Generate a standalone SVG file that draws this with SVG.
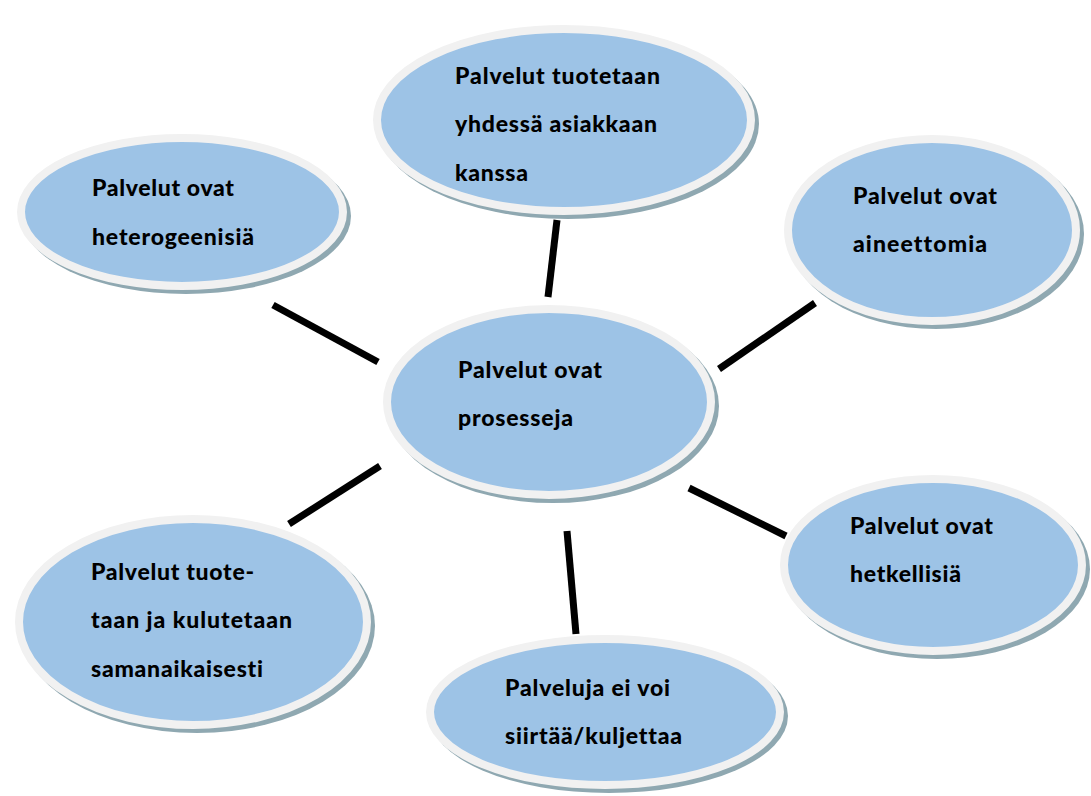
<svg xmlns="http://www.w3.org/2000/svg" width="1091" height="796" viewBox="0 0 1091 796">
<style>
.sh{fill:#8fa8b1}
.bd{fill:#9dc3e6;stroke:#f1f1f1;stroke-width:8}
.t{font-family:Lato,"Liberation Sans",sans-serif;font-weight:900;font-size:23px;fill:#000;font-variant-ligatures:none}
.c{stroke:#000;stroke-width:7;fill:none}
</style>
<rect width="1091" height="796" fill="#fff"/>
<g id="connectors">
<line class="c" x1="557" y1="220" x2="548" y2="297"/>
<line class="c" x1="273" y1="305" x2="378" y2="362"/>
<line class="c" x1="815" y1="303" x2="719" y2="369"/>
<line class="c" x1="380" y1="466" x2="289" y2="524"/>
<line class="c" x1="689" y1="488" x2="786" y2="536"/>
<line class="c" x1="567" y1="531" x2="576" y2="634"/>
</g>
<g id="node-top">
<ellipse class="sh" cx="568" cy="124" rx="191" ry="95"/>
<ellipse class="bd" cx="564" cy="120" rx="187" ry="91"/>
<text class="t" x="455" y="84" textLength="205" lengthAdjust="spacing">Palvelut tuotetaan</text>
<text class="t" x="455" y="132" textLength="202" lengthAdjust="spacing">yhdessä asiakkaan</text>
<text class="t" x="455" y="181" textLength="73" lengthAdjust="spacing">kanssa</text>
</g>
<g id="node-topleft">
<ellipse class="sh" cx="186" cy="216" rx="165" ry="78"/>
<ellipse class="bd" cx="182" cy="212" rx="161" ry="74"/>
<text class="t" x="92" y="196" textLength="142" lengthAdjust="spacing">Palvelut ovat</text>
<text class="t" x="92" y="245" textLength="162" lengthAdjust="spacing">heterogeenisiä</text>
</g>
<g id="node-topright">
<ellipse class="sh" cx="936" cy="234" rx="148" ry="95"/>
<ellipse class="bd" cx="932" cy="230" rx="144" ry="91"/>
<text class="t" x="853" y="204" textLength="144" lengthAdjust="spacing">Palvelut ovat</text>
<text class="t" x="853" y="252" textLength="134" lengthAdjust="spacing">aineettomia</text>
</g>
<g id="node-center">
<ellipse class="sh" cx="553" cy="406" rx="166" ry="97"/>
<ellipse class="bd" cx="549" cy="402" rx="162" ry="93"/>
<text class="t" x="458" y="378" textLength="144" lengthAdjust="spacing">Palvelut ovat</text>
<text class="t" x="458" y="426" textLength="115" lengthAdjust="spacing">prosesseja</text>
</g>
<g id="node-right">
<ellipse class="sh" cx="937" cy="569" rx="153" ry="90"/>
<ellipse class="bd" cx="933" cy="565" rx="149" ry="86"/>
<text class="t" x="850" y="534" textLength="143" lengthAdjust="spacing">Palvelut ovat</text>
<text class="t" x="850" y="582" textLength="111" lengthAdjust="spacing">hetkellisiä</text>
</g>
<g id="node-bottomleft">
<ellipse class="sh" cx="197" cy="626" rx="178" ry="107"/>
<ellipse class="bd" cx="193" cy="622" rx="174" ry="103"/>
<text class="t" x="91" y="580" textLength="163" lengthAdjust="spacing">Palvelut tuote-</text>
<text class="t" x="91" y="628" textLength="201" lengthAdjust="spacing">taan ja kulutetaan</text>
<text class="t" x="91" y="677" textLength="172" lengthAdjust="spacing">samanaikaisesti</text>
</g>
<g id="node-bottom">
<ellipse class="sh" cx="609" cy="716" rx="179" ry="77"/>
<ellipse class="bd" cx="605" cy="712" rx="175" ry="73"/>
<text class="t" x="505" y="696" textLength="165" lengthAdjust="spacing">Palveluja ei voi</text>
<text class="t" x="505" y="744" textLength="177" lengthAdjust="spacing">siirtää/kuljettaa</text>
</g>
</svg>
